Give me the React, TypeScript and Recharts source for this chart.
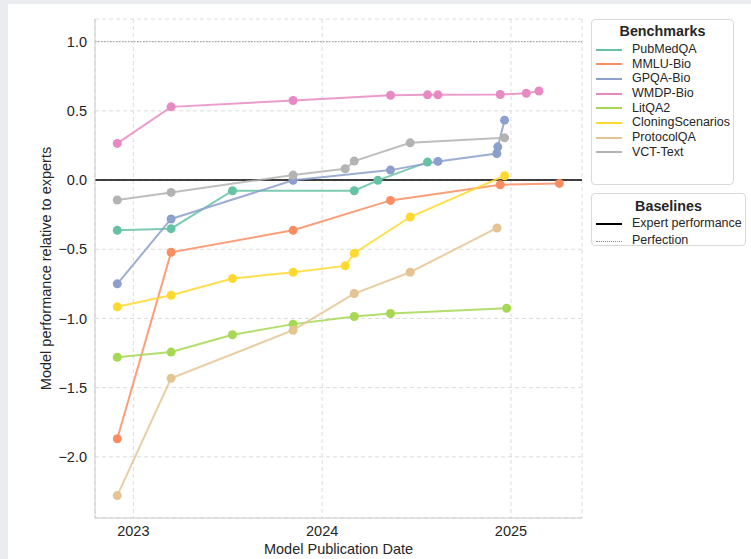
import React from 'react';
import { LineChart, Line, XAxis, YAxis, CartesianGrid, ReferenceLine } from 'recharts';

// x values are publication dates as decimal years
const pubmedDates = [2022.915, 2023.2, 2023.525, 2024.17, 2024.295, 2024.558];
const pubmedScores = [-0.363, -0.351, -0.077, -0.077, -0.002, 0.13];

const mmluDates = [2022.915, 2023.2, 2023.846, 2024.362, 2024.943, 2025.256];
const mmluScores = [-1.869, -0.522, -0.363, -0.147, -0.034, -0.024];

const gpqaDates = [2022.915, 2023.2, 2023.846, 2024.362, 2024.613, 2024.925, 2024.93, 2024.966];
const gpqaScores = [-0.75, -0.281, -0.002, 0.072, 0.135, 0.192, 0.24, 0.433];

const wmdpDates = [2022.915, 2023.2, 2023.846, 2024.362, 2024.558, 2024.613, 2024.943, 2025.081, 2025.148];
const wmdpScores = [0.265, 0.529, 0.575, 0.613, 0.616, 0.616, 0.618, 0.627, 0.644];

const litqaDates = [2022.915, 2023.2, 2023.525, 2023.846, 2024.17, 2024.362, 2024.977];
const litqaScores = [-1.28, -1.243, -1.118, -1.041, -0.986, -0.964, -0.926];

const cloningDates = [2022.915, 2023.2, 2023.525, 2023.846, 2024.122, 2024.17, 2024.466, 2024.966];
const cloningScores = [-0.916, -0.832, -0.712, -0.666, -0.62, -0.529, -0.267, 0.031];

const protocolDates = [2022.915, 2023.2, 2023.846, 2024.17, 2024.466, 2024.926];
const protocolScores = [-2.28, -1.433, -1.085, -0.82, -0.666, -0.346];

const vctDates = [2022.915, 2023.2, 2023.846, 2024.122, 2024.17, 2024.466, 2024.966];
const vctScores = [-0.144, -0.089, 0.036, 0.082, 0.137, 0.269, 0.305];

const xTicks = [2023, 2024, 2025];
const yTicks = [-2, -1.5, -1, -0.5, 0, 0.5, 1];

const zip = (dates: number[], scores: number[]) =>
  dates.map((x, i) => ({ x, y: scores[i] }));

const series = [
  { name: 'PubMedQA', color: '#66c2a5', data: zip(pubmedDates, pubmedScores) },
  { name: 'MMLU-Bio', color: '#fc8d62', data: zip(mmluDates, mmluScores) },
  { name: 'GPQA-Bio', color: '#8da0cb', data: zip(gpqaDates, gpqaScores) },
  { name: 'WMDP-Bio', color: '#e78ac3', data: zip(wmdpDates, wmdpScores) },
  { name: 'LitQA2', color: '#a6d854', data: zip(litqaDates, litqaScores) },
  { name: 'CloningScenarios', color: '#ffd92f', data: zip(cloningDates, cloningScores) },
  { name: 'ProtocolQA', color: '#e5c494', data: zip(protocolDates, protocolScores) },
  { name: 'VCT-Text', color: '#b3b3b3', data: zip(vctDates, vctScores) },
];

const FONT = '"Liberation Sans", Arial, sans-serif';
const TEXT = '#262626';

const boxStyle: React.CSSProperties = {
  position: 'absolute',
  left: 591,
  background: '#fff',
  border: '1px solid #d9d9d9',
  borderRadius: 4,
  boxSizing: 'border-box',
  fontFamily: FONT,
  color: TEXT,
};

const titleStyle: React.CSSProperties = {
  fontWeight: 'bold',
  fontSize: 14.3,
  lineHeight: '18px',
  textAlign: 'center',
};

const Swatch = ({ color, dotted }: { color: string; dotted?: boolean }) => (
  <span
    style={{
      display: 'inline-block',
      width: 26,
      height: 0,
      borderTop: dotted ? `1px dotted ${color}` : `2px solid ${color}`,
      marginLeft: 4,
      marginRight: 10,
      verticalAlign: 'middle',
    }}
  />
);

const App: React.FC = () => {
  return (
    <div style={{ position: 'absolute', left: 0, top: 0, width: 751, height: 559, background: '#eaecef', overflow: 'hidden' }}>
      <div style={{ position: 'absolute', left: 8, top: 4, width: 743, height: 555, background: '#fff' }} />
      <div style={{ position: 'absolute', left: 0, top: 0 }}>
        <LineChart width={751} height={559} margin={{ top: 19, right: 169, left: 0, bottom: 0 }}>
          <CartesianGrid stroke="#dcdcdc" strokeDasharray="4 3" />
          <XAxis
            dataKey="x"
            type="number"
            domain={[2022.797, 2025.376]}
            ticks={xTicks}
            allowDataOverflow
            height={41}
            axisLine={{ stroke: '#cccccc' }}
            tickLine={false}
            tick={{ fill: TEXT, fontSize: 14.5, fontFamily: FONT }}
            label={{ value: 'Model Publication Date', position: 'insideBottom', offset: 5, fill: TEXT, fontSize: 14.5, fontFamily: FONT }}
          />
          <YAxis
            type="number"
            domain={[-2.442, 1.164]}
            ticks={yTicks}
            allowDataOverflow
            width={95}
            axisLine={{ stroke: '#cccccc' }}
            tickLine={false}
            tickFormatter={(v: number) => v.toFixed(1).replace('-', '\u2212')}
            tick={{ fill: TEXT, fontSize: 14.5, fontFamily: FONT }}
            label={{ value: 'Model performance relative to experts', angle: -90, position: 'center', dx: -1.5, fill: TEXT, fontSize: 14.5, fontFamily: FONT }}
          />
          <ReferenceLine y={1} stroke="#999999" strokeDasharray="1.5 1.5" strokeWidth={1} />
          <ReferenceLine y={0} stroke="#000000" strokeWidth={1.6} />
          {series.map((s) => (
            <Line
              key={s.name}
              data={s.data}
              dataKey="y"
              name={s.name}
              type="linear"
              stroke={s.color}
              strokeOpacity={0.85}
              strokeWidth={2}
              dot={{ r: 4.5, fill: s.color, stroke: 'none', fillOpacity: 1 }}
              activeDot={false}
              isAnimationActive={false}
            />
          ))}
        </LineChart>
      </div>

      <div style={{ ...boxStyle, top: 19, width: 143, height: 166, paddingTop: 2 }}>
        <div style={titleStyle}>Benchmarks</div>
        <div style={{ marginTop: 2 }}>
          {series.map((s) => (
            <div key={s.name} style={{ fontSize: 12.5, lineHeight: '14.67px', whiteSpace: 'nowrap' }}>
              <Swatch color={s.color} />
              {s.name}
            </div>
          ))}
        </div>
      </div>

      <div style={{ ...boxStyle, top: 193, width: 155, height: 53, paddingTop: 3 }}>
        <div style={titleStyle}>Baselines</div>
        <div style={{ fontSize: 12.5, lineHeight: '17.3px', whiteSpace: 'nowrap' }}>
          <Swatch color="#000000" />
          Expert performance
        </div>
        <div style={{ fontSize: 12.5, lineHeight: '17.3px', whiteSpace: 'nowrap' }}>
          <Swatch color="#888888" dotted />
          Perfection
        </div>
      </div>
    </div>
  );
};

export default App;
